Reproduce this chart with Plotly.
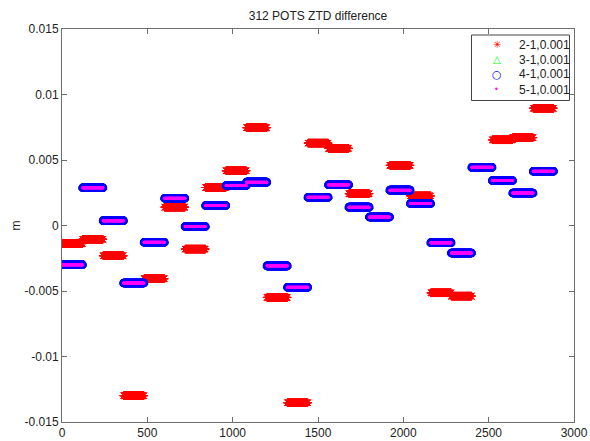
import numpy as np
import plotly.graph_objects as go

# ---- data (hourly constant differences, 120 epochs per hour) ----
epochs_per_hour = 120
n_hours = 24
series_names = ["2-1,0.001", "3-1,0.001", "4-1,0.001", "5-1,0.001"]

d21 = [-0.00138, -0.00105, -0.00231, -0.01299, -0.00406, 0.00140, -0.00180, 0.00290,
       0.00418, 0.00747, -0.00549, -0.01353, 0.00629, 0.00589, 0.00243, None,
       0.00459, 0.00226, -0.00514, -0.00539, None, 0.00654, 0.00671, 0.00895]
d31 = [-0.00297, 0.00290, 0.00039, -0.00437, -0.00126, 0.00210, -0.00006, 0.00155,
       0.00307, 0.00333, -0.00306, -0.00469, 0.00218, 0.00313, 0.00142, 0.00067,
       0.00272, 0.00170, -0.00129, -0.00208, 0.00446, 0.00345, 0.00250, 0.00416]
d41 = [-0.00299, 0.00288, 0.00037, -0.00439, -0.00128, 0.00208, -0.00008, 0.00153,
       0.00305, 0.00331, -0.00308, -0.00471, 0.00216, 0.00311, 0.00140, 0.00065,
       0.00270, 0.00168, -0.00131, -0.00210, 0.00444, 0.00343, 0.00248, 0.00414]
d51 = [-0.00299, 0.00288, 0.00037, -0.00439, -0.00128, 0.00208, -0.00008, 0.00153,
       0.00305, 0.00331, -0.00308, -0.00471, 0.00216, 0.00311, 0.00140, 0.00065,
       0.00270, 0.00168, -0.00131, -0.00210, 0.00444, 0.00343, 0.00248, 0.00414]

x_ticks = [0, 500, 1000, 1500, 2000, 2500, 3000]
y_ticks = [-0.015, -0.01, -0.005, 0, 0.005, 0.01, 0.015]
y_tick_labels = ["-0.015", "-0.01", "-0.005", "0", "0.005", "0.01", "0.015"]

epochs = np.arange(1, n_hours * epochs_per_hour + 1)


def expand(vals):
    arr = np.array([np.nan if v is None else v for v in vals], dtype=float)
    return np.repeat(arr, epochs_per_hour)


colors = ["red", "#00ff00", "blue", "magenta"]
styles = [
    dict(symbol="asterisk-open", size=7, color=colors[0], line=dict(color=colors[0], width=1)),
    dict(symbol="triangle-up-open", size=7, color=colors[1], line=dict(color=colors[1], width=1)),
    dict(symbol="circle-open", size=7, color=colors[2], line=dict(color=colors[2], width=1.6)),
    dict(symbol="circle", size=3, color=colors[3], line=dict(width=0)),
]
legend_glyphs = ["\u2733", "\u25B3", "\u25CB", "\u2022"]
legend_glyph_sizes = [10, 10, 11, 8]

fig = go.Figure()
for name, vals, st in zip(series_names, [d21, d31, d41, d51], styles):
    fig.add_trace(go.Scatter(x=epochs, y=expand(vals), mode="markers", name=name,
                             marker=st, showlegend=False))

# ---- layout geometry (pixels) ----
W, H = 590, 441
ML, MR, MT, MB = 62, 16, 29, 19
PW, PH = W - ML - MR, H - MT - MB


def px_x(p):
    return (p - ML) / PW


def px_y(p):
    return (H - MB - p) / PH


axis_col = "#6e6e6e"
txt_col = "#222222"
font = dict(family="Liberation Sans, Arial, sans-serif", size=12, color=txt_col)

# legend box drawn as shape + text annotations
fig.add_shape(type="rect", xref="paper", yref="paper",
              x0=px_x(471.5), x1=px_x(569.5), y0=px_y(100.5), y1=px_y(35),
              line=dict(color="#444444", width=1), fillcolor="white", layer="above")
row_y = [44.5, 59.5, 74.5, 89.5]
for i, name in enumerate(series_names):
    fig.add_annotation(xref="paper", yref="paper", x=px_x(496.5), y=px_y(row_y[i]),
                       text=legend_glyphs[i], showarrow=False, xanchor="center", yanchor="middle",
                       font=dict(family="DejaVu Sans", size=legend_glyph_sizes[i], color=colors[i]))
    fig.add_annotation(xref="paper", yref="paper", x=px_x(517), y=px_y(row_y[i]),
                       text=name, showarrow=False, xanchor="left", yanchor="middle",
                       font=dict(size=12, color=txt_col))

# y-axis label
fig.add_annotation(xref="paper", yref="paper", x=px_x(15), y=0.5, text="m", textangle=-90,
                   showarrow=False, xanchor="center", yanchor="middle",
                   font=dict(size=12, color=txt_col))

fig.update_layout(
    width=W, height=H,
    template="none",
    paper_bgcolor="white", plot_bgcolor="white",
    margin=dict(l=ML, r=MR, t=MT, b=MB),
    font=font,
    title=dict(text="312 POTS ZTD difference", x=0.5, xref="paper", y=1 - 16 / H,
               yanchor="middle", xanchor="center", font=dict(size=12, color=txt_col)),
    showlegend=False,
)
fig.update_xaxes(range=[0, 3000], tickvals=x_ticks, ticktext=[str(v) for v in x_ticks],
                 showline=True, linecolor=axis_col, linewidth=1, mirror="allticks",
                 ticks="inside", ticklen=5, tickcolor=axis_col, showgrid=False,
                 zeroline=False, automargin=False)
fig.update_yaxes(range=[-0.015, 0.015], tickvals=y_ticks, ticktext=y_tick_labels,
                 showline=True, linecolor=axis_col, linewidth=1, mirror="allticks",
                 ticks="inside", ticklen=5, tickcolor=axis_col, showgrid=False,
                 zeroline=False, automargin=False)

fig.write_html("out.html", config={"displayModeBar": False},
               post_script="document.body.style.margin='0';document.body.style.overflow='hidden';")
